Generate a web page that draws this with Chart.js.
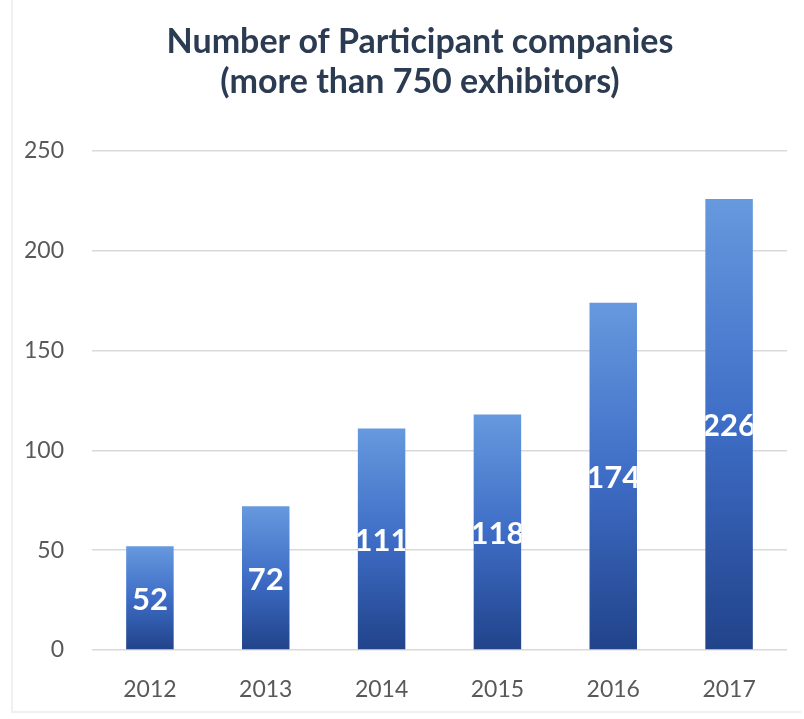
<!DOCTYPE html>
<html>
<head>
<meta charset="utf-8">
<script src="https://cdn.jsdelivr.net/npm/chart.js@4.4.1/dist/chart.umd.min.js"></script>
<style>
  html, body { margin:0; padding:0; background:#fff; }
  #wrap { position:relative; width:804px; height:719px; }
  #frame { position:absolute; left:11px; top:0; width:790px; height:713px;
           border-left:2px solid #f0f0f0; border-bottom:2px solid #f0f0f0; box-sizing:border-box; }
</style>
</head>
<body>
<div id="wrap">
  <div id="frame"></div>
  <canvas id="participantChart" width="804" height="719"></canvas>
</div>
<script>

// CHART DATA
const years = ["2012", "2013", "2014", "2015", "2016", "2017"];
const companies = [52, 72, 111, 118, 174, 226];
const yTicks = [0, 50, 100, 150, 200, 250];
const titleLines = ["Number of Participant companies", "(more than 750 exhibitors)"];


// GRADIENT PER BAR (light at top, dark at bottom)
function barGradient(ctx){

    const chart = ctx.chart;
    const yScale = chart.scales.y;
    if(!chart.chartArea || !yScale || ctx.parsed === undefined) return "#3a6bc0";

    const top = yScale.getPixelForValue(ctx.parsed.y);
    const bottom = yScale.getPixelForValue(0);
    const g = chart.ctx.createLinearGradient(0, top, 0, bottom);
    g.addColorStop(0, "#6699de");
    g.addColorStop(0.5, "#3e6dc6");
    g.addColorStop(1, "#21438a");
    return g;

}


// TITLE (drawn by hand, it sits a bit right of the canvas centre)
const chartTitle = {
    id:"chartTitle",
    afterDraw(chart){

        const c = chart.ctx;
        c.save();
        c.fillStyle = "#2b3b52";
        c.font = "bold 34px Lato";
        c.textAlign = "center";
        c.textBaseline = "middle";
        titleLines.forEach((line, i) => {
            c.fillText(line, 420, 42 + i * 40);
        });
        c.restore();

    }
};


// WHITE VALUE LABELS IN THE MIDDLE OF EACH BAR
const barLabels = {
    id:"barLabels",
    afterDatasetsDraw(chart){

        const c = chart.ctx;
        const meta = chart.getDatasetMeta(0);

        meta.data.forEach((bar, i) => {

            const left = bar.x - bar.width / 2;
            const mid = (bar.y + bar.base) / 2;

            c.save();
            c.beginPath();
            c.rect(left, bar.y, bar.width, bar.base - bar.y);
            c.clip();
            c.fillStyle = "#ffffff";
            c.font = "bold 31px Lato";
            c.textAlign = "center";
            c.textBaseline = "middle";
            c.fillText(String(companies[i]), bar.x, mid + 2);
            c.restore();

        });

    }
};


new Chart(

    document.getElementById("participantChart"),

    {
        type:"bar",
        data:{
            labels:years,
            datasets:[{
                data:companies,
                backgroundColor:barGradient,
                borderWidth:0,
                categoryPercentage:1,
                barPercentage:0.41
            }]
        },
        options:{
            responsive:false,
            animation:false,
            layout:{
                padding:{left:10, right:17, top:151, bottom:0}
            },
            plugins:{
                legend:{display:false},
                tooltip:{enabled:false},
                title:{display:false}
            },
            scales:{
                x:{
                    grid:{display:false},
                    border:{display:false},
                    afterFit:scale => {
                        scale.height = 69;
                    },
                    ticks:{
                        color:"#595959",
                        font:{family:"Lato", size:23},
                        padding:18
                    }
                },
                y:{
                    min:0,
                    max:250,
                    afterBuildTicks:scale => {
                        scale.ticks = yTicks.map(v => ({value:v}));
                    },
                    afterFit:scale => {
                        scale.width = 82;
                    },
                    grid:{color:"#d9d9d9", lineWidth:1.5, drawTicks:false},
                    border:{display:false},
                    ticks:{
                        color:"#595959",
                        font:{family:"Lato", size:23},
                        padding:28
                    }
                }
            }
        },
        plugins:[barLabels, chartTitle]
    }

);

</script>
</body>
</html>
